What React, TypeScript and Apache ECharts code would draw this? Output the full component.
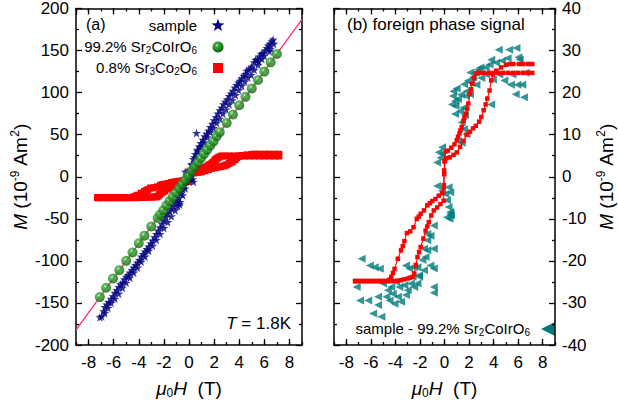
import React, { useEffect, useRef } from 'react';
import * as echarts from 'echarts';

// ---------------- data ----------------
const xTickLabels = ['-8', '-6', '-4', '-2', '0', '2', '4', '6', '8'];
const leftYTicks = [-200, -150, -100, -50, 0, 50, 100, 150, 200];
const rightYTicks = [-40, -30, -20, -10, 0, 10, 20, 30, 40];

const fitLine: [number, number][] = [[-9, -182], [9, 187]];

const sampleStars: [number, number][] = [
  [6.7, 163], [6.6, 161], [6.45, 158], [6.3, 156], [6.2, 153], [6.5, 152], [6.05, 150], [5.9, 147], [5.75, 146],
  [5.6, 143], [5.45, 140], [5.3, 139], [5.55, 137], [5.2, 136], [5.0, 131], [4.9, 129], [4.75, 127], [4.6, 126],
  [4.5, 122], [4.35, 120], [4.2, 117], [4.05, 114], [3.95, 112], [3.8, 109], [3.65, 106], [3.5, 102], [3.35, 99],
  [3.2, 96], [3.05, 92], [2.9, 89], [2.75, 86], [2.6, 82], [2.45, 79], [2.3, 75], [2.15, 71], [2.0, 67], [1.85, 63],
  [1.7, 59], [1.55, 55], [1.4, 51], [1.25, 48], [1.1, 44], [0.95, 40], [0.8, 36], [0.65, 32], [0.6, 52], [0.5, 27],
  [0.35, 21], [0.2, 15], [0.05, 8],
  [6.75, 158], [6.4, 149], [6.0, 144], [5.8, 140], [5.5, 133], [5.2, 127], [4.95, 121], [4.7, 118], [4.45, 113],
  [4.2, 108], [3.95, 103], [3.7, 97], [3.45, 91], [3.2, 86], [2.95, 80], [2.7, 75], [2.45, 69], [2.2, 64], [1.95, 58],
  [1.7, 53], [1.45, 47], [1.2, 41], [0.95, 36], [0.7, 30], [0.45, 23], [0.25, 14], [0.1, 5],
  [-0.1, 2], [-0.2, -4], [0.3, -3], [0.15, -1], [-0.3, 6], [0.35, -6],
  [-7.1, -167], [-6.95, -166], [-6.8, -160], [-6.7, -155], [-6.55, -152], [-6.4, -149], [-6.2, -145], [-6.05, -142],
  [-5.9, -138], [-5.75, -135], [-5.6, -131], [-5.45, -128], [-5.3, -126], [-5.15, -122], [-5.0, -119], [-4.85, -117],
  [-4.7, -114], [-4.55, -111], [-4.4, -108], [-4.25, -105], [-4.1, -102], [-3.95, -99], [-3.8, -95], [-3.65, -92],
  [-3.5, -89], [-3.35, -86], [-3.2, -83], [-3.05, -79], [-2.9, -76], [-2.75, -72], [-2.6, -68], [-2.45, -64],
  [-2.3, -60], [-2.15, -56], [-2.0, -52], [-1.85, -48], [-1.7, -44], [-1.55, -41], [-1.4, -38], [-1.25, -35],
  [-1.1, -31], [-0.95, -28], [-0.8, -25], [-0.74, -33], [-0.65, -20], [-0.5, -15], [-0.35, -10], [-0.2, -5],
  [-6.7, -162], [-6.45, -156], [-6.2, -150], [-5.9, -145], [-5.6, -139], [-5.3, -132], [-5.0, -126], [-4.7, -120],
  [-4.4, -114], [-4.1, -108], [-3.8, -101], [-3.5, -95], [-3.2, -88], [-2.9, -82], [-2.6, -75], [-2.3, -68],
  [-2.0, -61], [-1.7, -54], [-1.4, -47], [-1.1, -40], [-0.9, -35], [-0.7, -30], [-0.5, -22], [-0.3, -14],
];

const sr2CoIrO6: [number, number][] = [
  [-7.1, -143], [-6.6, -132], [-6.05, -121], [-5.55, -111], [-5.0, -100], [-4.5, -90], [-4.0, -79], [-3.55, -70],
  [-3.0, -59], [-2.5, -49], [-2.3, -45], [-2.05, -40], [-1.8, -34], [-1.55, -29], [-1.3, -24], [-1.05, -19],
  [-0.8, -14], [-0.55, -9], [-0.3, -4], [-0.05, 1], [0.2, 7], [0.45, 12], [0.7, 17], [0.95, 22], [1.2, 27],
  [1.45, 32], [1.7, 37], [1.95, 42], [2.2, 48], [2.45, 53], [3.0, 64], [3.5, 74], [4.0, 85], [4.5, 95],
  [5.0, 105], [5.5, 115], [6.0, 125], [6.5, 136], [7.0, 146],
];

const sr3Co2O6Down: [number, number][] = [
  [7.15, 24.7], [6.8, 24.7], [6.4, 24.7], [6.0, 24.7], [5.6, 24.7], [5.2, 24.7], [4.8, 24.7], [4.4, 24.7],
  [4.0, 24.7], [3.6, 24.7], [3.2, 24.7], [2.85, 24.7], [2.6, 24.6], [2.4, 23.4], [2.26, 22.1], [2.15, 20.8],
  [2.07, 19.7], [1.94, 17.4], [1.85, 16.2], [1.75, 15.0], [1.62, 14.0], [1.54, 13.3], [1.4, 11.8], [1.3, 11.0],
  [1.22, 10.3], [1.1, 9.5], [1.0, 8.7], [0.81, 7.7], [0.55, 6.9], [0.28, 6.2], [0.09, 6.0], [0.04, 3.8],
  [-0.02, 0.6], [-0.07, -2.5], [-0.2, -3.9], [-0.47, -4.5], [-0.74, -5.3], [-1.0, -5.8], [-1.2, -6.3],
  [-1.4, -6.8], [-1.67, -8.0], [-1.94, -8.8], [-2.1, -9.5], [-2.26, -10.0], [-2.52, -12.0], [-2.79, -13.0],
  [-3.06, -13.4], [-3.27, -15.3], [-3.4, -16.5], [-3.54, -17.5], [-3.8, -19.5], [-4.07, -21.9], [-4.2, -22.9],
  [-4.34, -23.8], [-4.5, -24.5], [-4.61, -24.8], [-4.9, -24.8], [-5.14, -24.8], [-5.4, -24.8], [-5.7, -24.8],
  [-6.0, -24.8], [-6.2, -24.8], [-6.5, -24.8], [-6.8, -24.8], [-7.1, -24.8], [-7.28, -24.8],
];

const sr3Co2O6Up: [number, number][] = [
  [-7.28, -24.8], [-7.0, -24.8], [-6.7, -24.8], [-6.4, -24.8], [-6.1, -24.8], [-5.8, -24.8], [-5.5, -24.8],
  [-5.2, -24.8], [-4.9, -24.8], [-4.6, -24.8], [-4.3, -24.8], [-4.07, -24.8], [-3.8, -24.7], [-3.54, -24.6],
  [-3.3, -24.4], [-3.0, -24.2], [-2.8, -24.0], [-2.6, -23.8], [-2.47, -23.0], [-2.34, -21.0], [-2.2, -19.1],
  [-2.07, -17.9], [-1.94, -16.7], [-1.72, -14.7], [-1.54, -12.8], [-1.4, -11.8], [-1.28, -10.8], [-1.08, -9.2],
  [-0.87, -8.0], [-0.6, -7.3], [-0.33, -6.5], [-0.07, -5.7], [-0.05, -2.0], [-0.03, 1.5], [0.0, 3.6],
  [0.15, 4.4], [0.42, 4.6], [0.74, 5.2], [1.0, 5.8], [1.27, 7.1], [1.54, 8.5], [1.8, 10.0], [2.07, 10.7],
  [2.33, 11.5], [2.55, 12.1], [2.82, 13.1], [3.0, 14.2], [3.19, 15.8], [3.35, 17.2], [3.49, 18.6], [3.67, 20.5],
  [3.8, 22.9], [3.94, 24.3], [4.21, 25.2], [4.61, 26.0], [5.01, 26.6], [5.3, 26.8], [5.6, 26.8], [6.07, 26.8],
  [6.4, 26.8], [6.8, 26.8], [7.15, 26.8],
];

const foreignSignal: [number, number][] = [
  [4.42, 30.2], [5.27, 30.2], [5.86, 30.6], [6.02, 28.4], [6.13, 27.9], [5.14, 28.2], [4.69, 27.6], [4.21, 27.1],
  [3.81, 27.8], [3.67, 26.7], [3.35, 26.0], [2.93, 26.0], [2.74, 25.5], [2.55, 24.7], [2.34, 23.7], [2.2, 22.3],
  [2.6, 21.9], [3.0, 23.5], [3.4, 24.3], [3.94, 23.1], [4.47, 24.3], [4.87, 22.9], [5.41, 21.9], [5.94, 21.9],
  [6.34, 21.9], [5.8, 19.6], [6.47, 18.9], [6.6, 24.7], [5.54, 24.3], [0.73, 20.3], [0.68, 19.2], [0.86, 18.0],
  [1.8, 20.3], [1.75, 19.2], [2.07, 19.6], [1.54, 16.4], [1.27, 15.6], [0.86, 14.9], [1.67, 14.7], [3.8, 17.2],
  [1.4, 12.9], [1.59, 11.3], [1.8, 10.1], [1.13, 8.5], [1.4, 8.1], [1.0, 21.0], [1.1, 18.5], [0.9, 16.8],
  [1.35, 19.5], [1.9, 22.8], [2.1, 24.8], [1.6, 22.0], [0.6, 17.2],
  [-0.47, 5.8], [-0.2, 5.4], [-0.6, 3.4], [-0.2, 7.0], [-0.33, 4.5], [-0.6, -2.2], [-0.2, -3.3], [0.33, -2.5],
  [0.47, -3.7], [0.2, -5.6], [0.33, -7.2], [0.47, -8.4], [0.2, -9.6], [0.52, -9.2], [0.07, -4.1], [0.4, -10.0],
  [0.47, -8.8],
  [-0.87, -11.6], [-1.14, -14.0], [-1.4, -13.6], [-1.4, -15.1], [-1.4, -17.5], [-1.67, -17.1], [-0.87, -17.1],
  [-0.87, -21.8], [-1.14, -21.1], [-1.54, -19.1], [-1.8, -19.8], [-2.07, -23.4], [-2.2, -21.5], [-2.6, -23.8],
  [-3.14, -21.1], [-2.87, -21.8], [-6.75, -19.5], [-6.08, -21.1], [-5.68, -21.5], [-5.27, -21.9], [-7.15, -26.2],
  [-6.88, -29.4], [-6.21, -29.4], [-5.41, -28.5], [-5.41, -30.5], [-5.81, -32.5], [-5.14, -33.3], [-4.74, -28.5],
  [-4.61, -27.0], [-4.34, -26.2], [-4.21, -27.8], [-4.07, -30.2], [-3.8, -28.5], [-3.54, -29.7], [-3.67, -26.2],
  [-3.27, -25.8], [-3.0, -27.0], [-2.74, -25.4], [-2.47, -26.2], [-2.2, -25.4], [-3.14, -28.1], [-4.47, -29.4],
  [-0.87, -26.2], [-0.87, -27.6], [-3.94, -25.0], [-5.01, -25.4], [-2.07, -23.8], [-1.67, -22.2], [-2.47, -21.5],
];

// ---------------- styling ----------------
const FONT = '"Liberation Sans", Arial, Helvetica, sans-serif';
const STAR = 'path://M50,0L61.2,34.5L97.6,34.5L68.2,55.9L79.4,90.5L50,69.1L20.6,90.5L31.8,55.9L2.4,34.5L38.8,34.5Z';
const TRI_LEFT = 'path://M0,50L90,0L90,100Z';
const NAVY = '#000080';
const RED = '#ff0000';
const TEAL = '#007b7b';
const PINK = '#ff2a82';

const legendLabels = {
  sample: 'sample',
  sr2: '99.2% Sr{s|2}CoIrO{s|6}',
  sr3: '0.8% Sr{s|3}Co{s|2}O{s|6}',
  foreign: 'sample - 99.2% Sr{s|2}CoIrO{s|6}',
};

function starPoints(cx: number, cy: number, R: number, r: number): number[][] {
  const pts: number[][] = [];
  for (let k = 0; k < 10; k++) {
    const a = -Math.PI / 2 + (k * Math.PI) / 5;
    const rad = k % 2 === 0 ? R : r;
    pts.push([cx + rad * Math.cos(a), cy + rad * Math.sin(a)]);
  }
  return pts;
}

const App: React.FC = () => {
  const ref = useRef<HTMLDivElement>(null);
  useEffect(() => {
    if (!ref.current) return;
    const chart = echarts.init(ref.current, undefined, { renderer: 'svg' });

    const axisLine = { show: true, onZero: false, lineStyle: { color: '#000', width: 1.5 } };
    const tickStyle = { color: '#000', width: 1.3 };
    const labelStyle = { color: '#000', fontSize: 17, fontFamily: FONT };
    const nameStyle = {
      color: '#000', fontSize: 19, fontFamily: FONT, lineHeight: 22,
      rich: {
        i: { fontStyle: 'italic', fontSize: 19, fontFamily: FONT, color: '#000', lineHeight: 22 },
        s: { fontSize: 12, fontFamily: FONT, color: '#000', lineHeight: 10, verticalAlign: 'bottom' },
        p: { fontSize: 12, fontFamily: FONT, color: '#000', lineHeight: 10, verticalAlign: 'top' },
      },
    };

    const xAxesFor = (gridIndex: number) => {
      const main = (position: string, labels: boolean) => ({
        type: 'value', gridIndex, position, min: -9, max: 9, splitNumber: 9, minInterval: 2, maxInterval: 2,
        axisLine, axisTick: { show: true, inside: true, length: 6, lineStyle: tickStyle },
        axisLabel: { show: labels, ...labelStyle, margin: 9, showMinLabel: false, showMaxLabel: false,
          formatter: (v: number) => (xTickLabels.includes(String(v)) ? String(v) : '') },
        splitLine: { show: false },
        ...(labels ? { name: '{i|μ}{s|0}{i|H}  (T)', nameLocation: 'middle', nameGap: 32, nameTextStyle: nameStyle } : {}),
      });
      const minor = (position: string) => ({
        type: 'value', gridIndex, position, min: -9, max: 9, interval: 1,
        axisLine: { show: false, onZero: false }, axisTick: { show: true, inside: true, length: 3, lineStyle: tickStyle },
        axisLabel: { show: false }, splitLine: { show: false },
      });
      return [main('bottom', true), minor('bottom'), main('top', false), minor('top')];
    };

    const yAxis = (gridIndex: number, position: string, ticks: number[], labels: boolean) => ({
      type: 'value', gridIndex, position, min: ticks[0], max: ticks[ticks.length - 1], interval: ticks[1] - ticks[0],
      axisLine, axisTick: { show: true, inside: true, length: 6, lineStyle: tickStyle },
      minorTick: { show: true, splitNumber: 2, length: 3, lineStyle: tickStyle },
      axisLabel: { show: labels, ...labelStyle, margin: 7 },
      splitLine: { show: false },
      ...(labels ? {
        name: '{i|M} (10{p|-9} Am{p|2})', nameLocation: 'middle', nameRotate: 90,
        nameGap: position === 'left' ? 45 : 40, nameTextStyle: nameStyle,
      } : {}),
    });

    const ballColor = () => new echarts.graphic.RadialGradient(0.4, 0.35, 0.65, [
      { offset: 0, color: '#f2fff2' },
      { offset: 0.18, color: '#46b446' },
      { offset: 0.6, color: '#1e8c1e' },
      { offset: 1, color: '#0c5e0c' },
    ]);

    const legendTextStyle = (text: string, x: number, y: number) => ({
      text, x, y, align: 'right', verticalAlign: 'middle', fontSize: 15, fontFamily: FONT, fill: '#000',
      lineHeight: 18,
      rich: { s: { fontSize: 10, fontFamily: FONT, fill: '#000', lineHeight: 8, verticalAlign: 'bottom' } },
    });

    const option: any = {
      animation: false,
      grid: [
        { left: 76, top: 7, width: 226, height: 338 },
        { left: 334, top: 7, width: 226, height: 338 },
      ],
      xAxis: [...xAxesFor(0), ...xAxesFor(1)],
      yAxis: [
        yAxis(0, 'left', leftYTicks, true),
        yAxis(0, 'right', leftYTicks, false),
        yAxis(1, 'left', rightYTicks, false),
        yAxis(1, 'right', rightYTicks, true),
      ],
      graphic: [
        { type: 'text', left: 86, top: 16, style: { text: '(a)', fontSize: 16, fontFamily: FONT, fill: '#000' } },
        { type: 'text', left: 347, top: 16, style: { text: '(b) foreign phase signal', fontSize: 17, fontFamily: FONT, fill: '#000' } },
        { type: 'text', right: 618 - 291, top: 315, style: {
          text: '{i|T} = 1.8K', fontSize: 17, fontFamily: FONT, fill: '#000',
          rich: { i: { fontStyle: 'italic', fontSize: 17, fontFamily: FONT, fill: '#000' } },
        } },
        // legend of panel (a)
        { type: 'text', style: legendTextStyle(legendLabels.sample, 197, 25) },
        { type: 'polygon', shape: { points: starPoints(218, 25.5, 6.8, 2.8) }, style: { fill: NAVY } },
        { type: 'text', style: legendTextStyle(legendLabels.sr2, 197, 46) },
        { type: 'circle', shape: { cx: 218, cy: 47, r: 5.5 }, style: { fill: ballColor() } },
        { type: 'text', style: legendTextStyle(legendLabels.sr3, 197, 67) },
        { type: 'rect', shape: { x: 213, y: 63, width: 10, height: 10 }, style: { fill: RED } },
        // legend of panel (b)
        { type: 'text', style: legendTextStyle(legendLabels.foreign, 530, 328) },
        { type: 'polygon', shape: { points: [[541, 329], [555, 322], [555, 336]] }, style: { fill: TEAL } },
      ],
      series: [
        { name: 'linear fit', type: 'line', xAxisIndex: 0, yAxisIndex: 0, data: fitLine, symbol: 'none',
          lineStyle: { color: PINK, width: 1.3 }, silent: true, z: 1 },
        { name: '0.8% Sr3Co2O6', type: 'line', xAxisIndex: 0, yAxisIndex: 0, data: sr3Co2O6Down, symbol: 'rect',
          symbolSize: 7, itemStyle: { color: RED }, lineStyle: { color: RED, width: 5 }, z: 2 },
        { name: '0.8% Sr3Co2O6', type: 'line', xAxisIndex: 0, yAxisIndex: 0, data: sr3Co2O6Up, symbol: 'rect',
          symbolSize: 7, itemStyle: { color: RED }, lineStyle: { color: RED, width: 5 }, z: 2 },
        { name: 'sample', type: 'scatter', xAxisIndex: 0, yAxisIndex: 0, data: sampleStars, symbol: STAR,
          symbolSize: 9, itemStyle: { color: NAVY }, z: 3 },
        { name: '99.2% Sr2CoIrO6', type: 'scatter', xAxisIndex: 0, yAxisIndex: 0, data: sr2CoIrO6, symbol: 'circle',
          symbolSize: 10, itemStyle: { color: ballColor() }, z: 4 },
        { name: 'sample - 99.2% Sr2CoIrO6', type: 'scatter', xAxisIndex: 4, yAxisIndex: 3, data: foreignSignal,
          symbol: TRI_LEFT, symbolSize: 8, itemStyle: { color: TEAL }, z: 2 },
        { name: 'Sr3Co2O6 loop down', type: 'line', xAxisIndex: 4, yAxisIndex: 3, data: sr3Co2O6Down, symbol: 'rect',
          symbolSize: 4.5, itemStyle: { color: RED }, lineStyle: { color: RED, width: 1.1 }, z: 3 },
        { name: 'Sr3Co2O6 loop up', type: 'line', xAxisIndex: 4, yAxisIndex: 3, data: sr3Co2O6Up, symbol: 'rect',
          symbolSize: 4.5, itemStyle: { color: RED }, lineStyle: { color: RED, width: 1.1 }, z: 3 },
      ],
    };
    chart.setOption(option);
    return () => chart.dispose();
  }, []);
  return <div ref={ref} style={{ position: 'absolute', left: 0, top: 0, width: 618, height: 410, background: '#fff' }} />;
};

export default App;
